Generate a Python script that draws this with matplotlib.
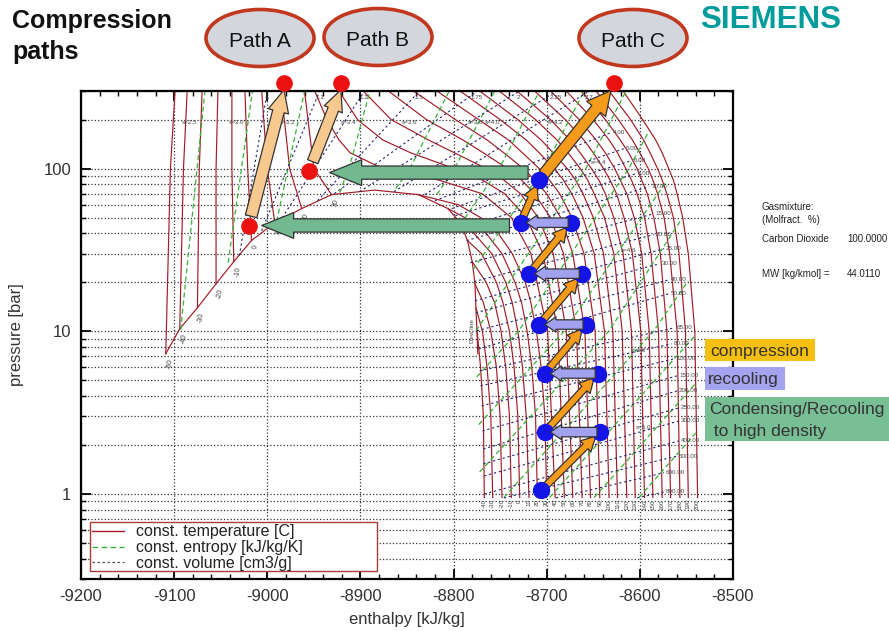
import numpy as np
import matplotlib
matplotlib.use('Agg')
import matplotlib.pyplot as plt
from matplotlib.patches import Ellipse, Rectangle
from matplotlib.lines import Line2D
from matplotlib.ticker import FixedLocator, FuncFormatter, NullFormatter, MultipleLocator, LogLocator

plt.rcParams['font.family'] = ['Liberation Sans', 'DejaVu Sans']
plt.rcParams['axes.unicode_minus'] = False

# ------------------------------------------------------------------ data
# saturation dome of CO2 (temperature degC, pressure bar, enthalpy kJ/kg)
sat_T = [-50, -40, -30, -20, -10, 0, 10, 20, 30]
sat_p = [7.27, 10.36, 13.95, 19.6, 26.8, 36.1, 46.5, 56.8, 69.2]
sat_liq_h = [-9109, -9094, -9075, -9055, -9036, -9017, -8992, -8963, -8931]
sat_vap_h = [-8774, -8775, -8776, -8777, -8780, -8785, -8793, -8806, -8838]
crit_h, crit_p = -8885, 73.8

# compressed-liquid isotherms (same temperatures as sat_T) at 100 / 300 bar
liq_h_100 = [-9104, -9090, -9073, -9055, -9038, -9021, -9000, -8976, -8950]
liq_h_300 = [-9099, -9086, -9070, -9053, -9038, -9024, -9006, -8985, -8960]

# sub-critical vapour isotherms
vap_T = [-40, -30, -20, -10, 0, 10, 20, 30]
vap_p = [0.95, 3, 6, 10, 15, 20, 30, 40, 50, 60]
vap_h = [
    [-8767, -8768, -8771],
    [-8758, -8760, -8764, -8769],
    [-8748, -8750, -8754, -8760, -8768],
    [-8738, -8740, -8744, -8749, -8756, -8765],
    [-8729, -8731, -8735, -8740, -8747, -8754, -8770],
    [-8719, -8722, -8726, -8731, -8737, -8744, -8759, -8778],
    [-8710, -8712, -8716, -8721, -8727, -8734, -8748, -8765, -8788],
    [-8700, -8702, -8706, -8711, -8717, -8723, -8737, -8752, -8771, -8795],
]

# super-critical isotherms: enthalpy at ~1 bar and departure at higher pressure
sc_T = [40, 50, 60, 70, 80, 90, 100, 110, 120, 130, 140, 150, 160, 170, 180, 190, 200]
sc_p = [0.95, 10, 30, 50, 70, 85, 100, 125, 150, 200, 300]
sc_h_low = [-8691, -8681, -8672, -8662, -8653, -8643, -8633, -8624, -8614,
            -8605, -8595, -8586, -8576, -8567, -8557, -8548, -8538]
sc_dh = [
    [0, -8, -26, -47, -78, -125, -185, -220, -232, -245, -258],
    [0, -7, -23, -41, -64, -88, -118, -165, -195, -222, -242],
    [0, -7, -21, -37, -56, -74, -93, -127, -155, -195, -225],
    [0, -6, -20, -34, -51, -65, -80, -106, -128, -167, -208],
    [0, -6, -19, -32, -47, -60, -72, -93, -111, -145, -190],
    [0, -5, -17, -30, -43, -54, -65, -83, -98, -130, -175],
    [0, -5, -16, -28, -40, -49, -59, -75, -89, -117, -160],
    [0, -5, -15, -26, -37, -45, -54, -69, -82, -107, -148],
    [0, -5, -14, -24, -35, -42, -50, -63, -75, -98, -137],
    [0, -4, -13, -23, -32, -39, -47, -59, -70, -91, -127],
    [0, -4, -13, -22, -30, -37, -44, -55, -65, -85, -118],
    [0, -4, -12, -20, -28, -35, -41, -51, -61, -79, -110],
    [0, -4, -12, -19, -27, -33, -39, -48, -57, -74, -103],
    [0, -4, -11, -18, -25, -31, -36, -45, -54, -70, -96],
    [0, -3, -11, -17, -24, -29, -34, -43, -51, -66, -90],
    [0, -3, -10, -16, -23, -28, -33, -41, -48, -62, -85],
    [0, -3, -10, -16, -22, -26, -31, -38, -45, -59, -80],
]

# constant-entropy lines
ent_h = [[-9093, -9067], [-9042, -9016], [-8990, -8960], [-8922, -8909, -8890],
         [-8862, -8847, -8805], [-8818, -8799, -8756], [-8793, -8751, -8708],
         [-8779, -8703, -8660], [-8776, -8658, -8615], [-8775, -8730, -8612, -8590],
         [-8773, -8681, -8571], [-8772, -8633, -8555], [-8746, -8585, -8548],
         [-8697, -8540], [-8649, -8539], [-8601, -8538]]
ent_p = [[10.2, 298], [26.4, 298], [47.2, 298], [71.2, 116.9, 298],
         [75.3, 100, 298], [69.2, 100, 298], [45, 100, 298],
         [24, 100, 298], [10.07, 100, 298], [5.25, 10.07, 100, 171],
         [2.67, 10.07, 84.4], [1.365, 10.07, 49.2], [0.95, 10.07, 20.5],
         [0.95, 9.5], [0.95, 4.86], [0.95, 2.44]]
s_labels = ['s=2.5', 's=3.0', 's=3.2', 's=3.4', 's=3.6', 's=3.8', 's=4.0', 's=4.2',
            's=4.4', 's=4.6', 's=4.8', 's=5.0']
s_lab_h = [-9083, -9033, -8978, -8913, -8847, -8776, -8758, -8690, -8644, -8612, -8601, -8596]
s_lab_p = [192, 192, 192, 192, 192, 192, 192, 192, 109, 31.3, 7.57, 2.55]

# constant-volume lines (liquid / dense side, labelled at the top)
vol_liq_v = [1.0, 1.1, 1.2, 1.5, 1.75, 2.0, 2.25, 2.7]
vol_liq_h0 = [-9030, -9006, -8984, -8946, -8928, -8901, -8864, -8831]
vol_liq_p0 = [29.2, 41.5, 49.9, 63.5, 70.2, 72.2, 72.2, 69.2]
vol_liq_h1 = [-9000, -8944, -8896, -8837, -8775, -8730, -8690, -8655]
vol_liq_p1 = [298, 298, 298, 298, 298, 298, 298, 298]
# constant-volume lines (vapour side, labelled on the right)
vol_vap_v = [4, 5, 6, 8, 10, 15, 20, 25, 30, 40, 50, 65, 80, 100, 150, 200, 250, 300, 400, 500, 600, 800]
vol_vap_h0 = [-8820, -8802, -8798, -8792, -8786, -8782, -8778, -8777, -8776, -8775, -8773,
              -8772, -8771, -8770, -8769, -8768, -8768, -8767, -8767, -8746, -8690, -8603]
vol_vap_p0 = [63.5, 56.8, 51.4, 42.8, 36.1, 26.4, 20.2, 15.4, 13.0, 10.07, 7.8,
              5.71, 4.62, 3.48, 2.44, 1.89, 1.53, 1.29, 1.0, 0.945, 0.945, 0.945]
vol_vap_h1 = [-8631, -8617, -8609, -8604, -8590, -8585, -8585, -8574, -8579, -8569, -8569,
              -8563, -8566, -8563, -8560, -8560, -8558, -8558, -8558, -8560, -8574, -8574]
vol_vap_p1 = [166.5, 132.7, 112, 93.2, 77.4, 52.8, 39.3, 32.2, 26.0, 20.7, 17.0,
              10.5, 8.37, 6.78, 5.32, 4.30, 3.38, 2.81, 2.12, 1.71, 1.35, 1.03]

# Path C : multi-stage compression with intercooling
comp_h0 = [-8706, -8702, -8702, -8708, -8719, -8728, -8708]
comp_p0 = [1.05, 2.4, 5.5, 11, 22.6, 46.5, 85.5]
comp_h1 = [-8643, -8645, -8658, -8662, -8674, -8708, -8631]
comp_p1 = [2.4, 5.5, 11, 22.6, 46.5, 85.5, 302]
pathC_end = (-8628, 338)

# Path A / B : condensing then pumping
pathA_h = [-9020, -8982]
pathA_p = [44.6, 338]
pathB_h = [-8955, -8921]
pathB_p = [97, 338]
cond_h0 = [-8720, -8740]
cond_h1 = [-8933, -9006]
cond_p = [94.5, 44.7]

# ------------------------------------------------------------------ style
W, H = 889, 631
ISO = '#a11c26'
ENT = '#36b336'
VOL = '#24246e'
TXT = '#333333'

fig = plt.figure(figsize=(W / 100, H / 100), dpi=100)
fig.patch.set_facecolor('white')
ax = fig.add_axes([81 / W, 1 - 579 / H, 652 / W, 488 / H])
ax.set_xlim(-9200, -8500)
ax.set_yscale('log')
ax.set_ylim(0.3, 300)

lw_bg = 0.85
# isotherms
dome_h = sat_liq_h + [crit_h] + sat_vap_h[::-1]
dome_p = sat_p + [crit_p] + sat_p[::-1]
ax.plot(dome_h, dome_p, color=ISO, lw=lw_bg, zorder=2)
for i in range(len(sat_T)):
    ax.plot([sat_liq_h[i], liq_h_100[i], liq_h_300[i]], [sat_p[i], 100, 300],
            color=ISO, lw=lw_bg, zorder=2)
for i in range(len(vap_T)):
    n = len(vap_h[i])
    hs = vap_h[i] + [sat_vap_h[i + 1]]
    ps = vap_p[:n] + [sat_p[i + 1]]
    ax.plot(hs, ps, color=ISO, lw=lw_bg, zorder=2)
for i in range(len(sc_T)):
    hs = sc_h_low[i] + np.array(sc_dh[i])
    ax.plot(hs, sc_p, color=ISO, lw=lw_bg, zorder=2)

# entropy lines
for hs, ps in zip(ent_h, ent_p):
    ax.plot(hs, ps, color=ENT, lw=0.9, dashes=(4, 2.5), zorder=2)
for s, h, p in zip(s_labels, s_lab_h, s_lab_p):
    ax.text(h, p, s, fontsize=4.5, color='#444', ha='center', va='center', zorder=3)

# volume lines
for i in range(len(vol_liq_v)):
    ax.plot([vol_liq_h0[i], vol_liq_h1[i]], [vol_liq_p0[i], vol_liq_p1[i]],
            color=VOL, lw=0.8, dashes=(2, 2.5), zorder=2)
    ax.text(vol_liq_h1[i], 285, f'{vol_liq_v[i]:g}', fontsize=4.5, color='#444',
            ha='center', va='top', zorder=3)
for i in range(len(vol_vap_v)):
    ax.plot([vol_vap_h0[i], vol_vap_h1[i]], [vol_vap_p0[i], vol_vap_p1[i]],
            color=VOL, lw=0.8, dashes=(2, 2.5), zorder=2)
    ax.text(vol_vap_h1[i] + 2, vol_vap_p1[i], f'{vol_vap_v[i]:.2f}', fontsize=4.5,
            color='#444', ha='left', va='center', zorder=3)

# temperature labels
for T, hs in zip(vap_T, vap_h):
    ax.text(hs[0], 0.93, f'{T}', rotation=90, fontsize=4.5, color='#444',
            ha='center', va='top')
for T, h in zip(sc_T, sc_h_low):
    ax.text(h, 0.93, f'{T}', rotation=90, fontsize=4.5, color='#444',
            ha='center', va='top')
for T, h, p in zip(sat_T, sat_liq_h, sat_p):
    ax.annotate(f'{T}', (h, p), xytext=(3, -3), textcoords='offset points',
                rotation=80, fontsize=5, color='#444', ha='center', va='top')
ax.text(-8777, 10, 'Dew line', rotation=90, fontsize=4.5, color='#444',
        ha='right', va='center')

# grid / ticks
ax.yaxis.set_major_locator(FixedLocator([1, 10, 100]))
ax.yaxis.set_minor_locator(LogLocator(base=10, subs=np.arange(2, 10), numticks=20))
ax.yaxis.set_major_formatter(FuncFormatter(lambda v, _: f'{v:g}'))
ax.yaxis.set_minor_formatter(NullFormatter())
ax.xaxis.set_major_locator(MultipleLocator(100))
ax.xaxis.set_minor_locator(MultipleLocator(20))
ax.yaxis.grid(True, which='both', ls=':', color='#333', lw=0.9)
ax.xaxis.grid(True, which='major', ls=':', color='#333', lw=0.9)
ax.set_axisbelow(True)
ax.tick_params(which='both', direction='in', top=True, right=True,
               labelsize=12, labelcolor=TXT, pad=7)
ax.tick_params(which='major', length=7, width=1.3)
ax.tick_params(which='minor', length=3.5, width=1.0)
for sp in ax.spines.values():
    sp.set_linewidth(1.6)
ax.set_xlabel('enthalpy [kJ/kg]', fontsize=12, color=TXT)
ax.set_ylabel('pressure [bar]', fontsize=12, color=TXT)
ax.xaxis.set_label_coords(0.5, -0.068)
ax.yaxis.set_label_coords(-0.088, 0.5)


# ------------------------------------------------------------------ arrows
def arrow(h0, p0, h1, p1, fc, tail, hw, hl, sA=0, sB=0, z=5, ec='#333333'):
    ax.annotate('', xy=(h1, p1), xytext=(h0, p0), annotation_clip=False, zorder=z,
                arrowprops=dict(arrowstyle=f'simple,head_length={hl},head_width={hw},tail_width={tail}',
                                mutation_scale=1, fc=fc, ec=ec, lw=0.9,
                                shrinkA=sA, shrinkB=sB))


ORANGE = '#f59b1b'
PEACH = '#f8c98e'
LAV = '#a1a1ef'
GREEN = '#72b991'

# condensing arrows
for h0, h1, p in zip(cond_h0, cond_h1, cond_p):
    arrow(h0, p, h1, p, GREEN, 9.5, 18.5, 23, z=4)
# Path A / B pump arrows
arrow(pathA_h[0], pathA_p[0], pathA_h[1], 305, PEACH, 8.5, 15, 16, sA=7, z=5)
arrow(pathB_h[0], pathB_p[0], pathB_h[1], 305, PEACH, 8, 14, 15, sA=7, z=5)

# Path C compression + recooling
for i in range(len(comp_h0)):
    last = i == len(comp_h0) - 1
    if last:
        arrow(comp_h0[i], comp_p0[i], comp_h1[i], comp_p1[i], ORANGE, 8, 17.5, 17, sA=5, z=5)
    else:
        arrow(comp_h0[i], comp_p0[i], comp_h1[i], comp_p1[i], ORANGE, 5, 11, 10.5, sA=4, sB=4, z=5)
for i in range(len(comp_h0) - 2):
    arrow(comp_h1[i], comp_p1[i], comp_h0[i + 1], comp_p0[i + 1], LAV, 6.8, 11, 8,
          sA=2, sB=4, z=7)

blue_h = comp_h0 + comp_h1[:-2]
blue_p = comp_p0 + comp_p1[:-2]
ax.plot(blue_h, blue_p, 'o', color='#1414e6', ms=11.5, zorder=6, clip_on=False)
red_h = [pathA_h[0], pathB_h[0], pathA_h[1], pathB_h[1], pathC_end[0]]
red_p = [pathA_p[0], pathB_p[0], pathA_p[1], pathB_p[1], pathC_end[1]]
ax.plot(red_h, red_p, 'o', color='#ec1111', ms=11, zorder=8, clip_on=False)

# ------------------------------------------------------------------ legend
handles = [Line2D([], [], color=ISO, lw=1.0),
           Line2D([], [], color=ENT, lw=1.0, dashes=(4, 2.5)),
           Line2D([], [], color='#555', lw=0.9, dashes=(2, 2))]
leg = ax.legend(handles, ['const. temperature [C]', 'const. entropy [kJ/kg/K]',
                          'const. volume [cm3/g]'],
                loc='upper left', bbox_to_anchor=((90 - 81) / 652, (579 - 522) / 488),
                frameon=False, fontsize=11.5, handlelength=2.0, handletextpad=0.75,
                labelspacing=0.05, borderpad=0.15, borderaxespad=0)
for t in leg.get_texts():
    t.set_color('#222')
leg.set_zorder(9)
ax.add_patch(Rectangle(((90 - 81) / 652, (579 - 571) / 488), (377 - 90) / 652, 49 / 488,
                       transform=ax.transAxes, fc='white', ec='#b03a3a', lw=1.0, zorder=8.5))


# ------------------------------------------------------------------ figure annotations
def F(x, y):
    return x / W, 1 - y / H


fig.text(*F(12, 28), 'Compression', fontsize=18, weight='bold', color='#111', va='baseline')
fig.text(*F(12, 59), 'paths', fontsize=18, weight='bold', color='#111', va='baseline')
fig.text(*F(700, 28), 'SIEMENS', fontsize=22.5, weight='bold', color='#009b9b', va='baseline')

for cx, cy, lab in [(260, 38, 'Path A'), (378, 37, 'Path B'), (633, 38, 'Path C')]:
    e = Ellipse(F(cx, cy), 108 / W, 57 / H, transform=fig.transFigure,
                fc='#d4d6de', ec='#c2381f', lw=2.6)
    fig.add_artist(e)
    fig.text(*F(cx, cy + 9), lab, fontsize=15, color='#111', ha='center', va='baseline')

info = [(762, 210, 'Gasmixture:'), (762, 223, '(Molfract.  %)'),
        (762, 242, 'Carbon Dioxide'), (847, 242, '100.0000'),
        (762, 277, 'MW [kg/kmol] ='), (847, 277, '44.0110')]
for x, y, s in info:
    fig.text(*F(x, y), s, fontsize=7, color='#222', va='baseline')

boxes = [(705, 339, 110, 22, '#f6c012'), (705, 367, 80, 23, '#a3a3f0'),
         (705, 397, 184, 44, '#79bf95')]
for x, y, w, h, c in boxes:
    fig.add_artist(Rectangle(F(x, y + h), w / W, h / H, transform=fig.transFigure,
                             fc=c, ec='none'))
fig.text(*F(710, 356), 'compression', fontsize=12.5, color=TXT, va='baseline')
fig.text(*F(708, 384), 'recooling', fontsize=12.5, color=TXT, va='baseline')
fig.text(*F(709, 414), 'Condensing/Recooling', fontsize=12.5, color=TXT, va='baseline')
fig.text(*F(709, 436), ' to high density', fontsize=12.5, color=TXT, va='baseline')

fig.savefig('out.png', dpi=100)
